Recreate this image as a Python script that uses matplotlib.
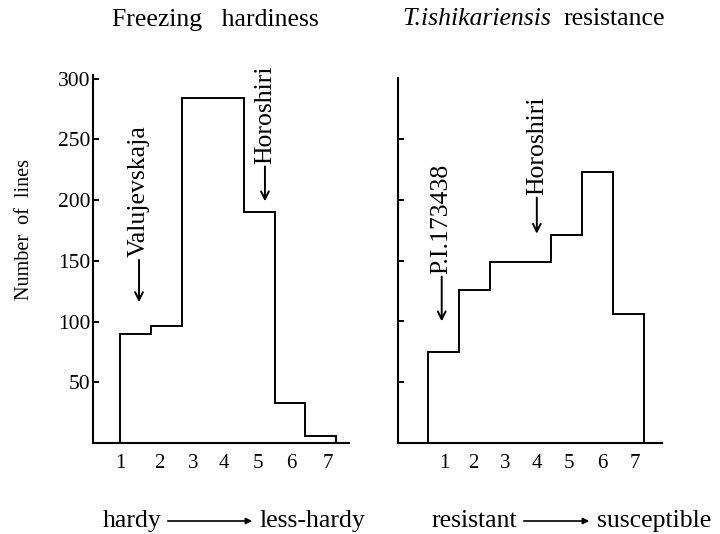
import matplotlib
matplotlib.use("Agg")
import matplotlib.pyplot as plt
import numpy as np

plt.rcParams['font.family'] = ['Liberation Serif', 'DejaVu Serif']

# ---- data ----
classes = [1, 2, 3, 4, 5, 6, 7]
class_labels = ['1', '2', '3', '4', '5', '6', '7']
freezing_counts = [90, 96, 284, 284, 190, 33, 6]
snowmold_counts = [75, 126, 149, 149, 171, 223, 106]
y_ticks = [50, 100, 150, 200, 250, 300]
y_tick_labels = ['50', '100', '150', '200', '250', '300']
# tick label placement as printed (slightly irregular in the original)
left_label_pos = [0.5, 1.76, 2.88, 3.87, 4.97, 6.03, 7.23]
right_label_pos = [1.05, 1.97, 3.02, 4.04, 5.08, 6.14, 7.21]

W, H = 720, 534
fig = plt.figure(figsize=(7.2, 5.34), dpi=100)

def px_axes(x0, x1, ytop, ybot):
    return fig.add_axes([x0 / W, (H - ybot) / H, (x1 - x0) / W, (ybot - ytop) / H])

axL = px_axes(93, 349, 75, 443)
axR = px_axes(398, 662, 78, 443)

edges = np.arange(len(classes) + 1) + 0.5
lw = 1.4
for ax, vals in ((axL, freezing_counts), (axR, snowmold_counts)):
    ax.stairs(vals, edges, baseline=0, fill=False, color='black', lw=lw)
    for s in ('top', 'right'):
        ax.spines[s].set_visible(False)
    for s in ('left', 'bottom'):
        ax.spines[s].set_linewidth(1.5)
    ax.tick_params(axis='y', direction='in', length=4, width=1.4, pad=2, labelsize=15.5)
    ax.tick_params(axis='x', length=0, pad=8, labelsize=15)
    ax.set_facecolor('none')

axL.set_xlim(-0.374, 7.91)
axL.set_ylim(0, 303)
axL.set_yticks(y_ticks)
axL.set_yticklabels(y_tick_labels)
axL.set_xticks(left_label_pos)
axL.set_xticklabels(class_labels)

axR.set_xlim(-0.461, 8.08)
axR.set_ylim(0, 300)
axR.set_yticks(y_ticks[:-1])
axR.set_yticklabels([])
axR.set_xticks(right_label_pos)
axR.set_xticklabels(class_labels)

arrow_kw = dict(arrowstyle='->', lw=1.4, color='black', shrinkA=0, shrinkB=0,
                mutation_scale=14)
ann_fs = 18.5

def note(ax, text, x, ytext, ytip):
    ax.annotate(text, xy=(x, ytip), xytext=(x, ytext), rotation=90,
                ha='center', va='bottom', fontsize=ann_fs,
                arrowprops=arrow_kw, annotation_clip=False)

note(axL, 'Valujevskaja', 1.115, 153, 116)
note(axL, 'Horoshiri', 5.19, 230, 199)
note(axR, 'P.I.173438', 0.953, 139, 100)
note(axR, 'Horoshiri', 4.03, 204, 172)

fs = 18.5
fig.text(215 / W, 1 - 20 / H, 'Freezing   hardiness', ha='center', va='center', fontsize=fs)
fig.text(402 / W, 1 - 19 / H, 'T.ishikariensis', ha='left', va='center', fontsize=fs,
         style='italic')
fig.text(563 / W, 1 - 19 / H, 'resistance', ha='left', va='center', fontsize=fs)

fig.text(25 / W, 1 - 230 / H, 'Number  of  lines', rotation=90, ha='center',
         va='center', fontsize=14.5)

yb = (H - 527) / H
fig.text(103 / W, yb, 'hardy', ha='left', va='baseline', fontsize=fs)
fig.text(260 / W, yb, 'less-hardy', ha='left', va='baseline', fontsize=fs)
fig.text(432 / W, yb, 'resistant', ha='left', va='baseline', fontsize=fs)
fig.text(597 / W, yb, 'susceptible', ha='left', va='baseline', fontsize=fs)
ya = (H - 521) / H
for x0, x1 in ((165, 255), (521, 592)):
    fig.add_artist(matplotlib.patches.FancyArrowPatch(
        (x0 / W, ya), (x1 / W, ya), transform=fig.transFigure,
        arrowstyle='-|>', mutation_scale=9, lw=1.2, color='black'))

fig.savefig('out.png', dpi=100)
